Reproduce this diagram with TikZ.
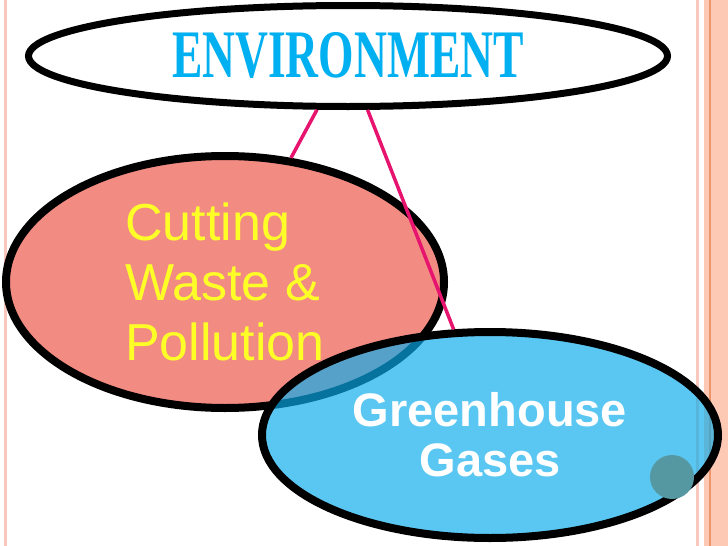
\documentclass[tikz,border=0pt]{standalone}
\usepackage{fontspec}
\setmainfont{Liberation Sans}
\newfontfamily\titlefont{Liberation Serif}
\usetikzlibrary{shapes.geometric}
\definecolor{envcyan}{RGB}{0,176,240}
\definecolor{cutpink}{RGB}{242,139,130}
\definecolor{cutyellow}{RGB}{255,255,40}
\definecolor{gasblue}{RGB}{10,172,236}
\definecolor{linkred}{RGB}{230,20,110}
\definecolor{edgepink}{RGB}{248,200,188}
\definecolor{edgepeach}{RGB}{253,200,180}
\definecolor{edgeorange}{RGB}{236,150,110}
\definecolor{dotteal}{RGB}{85,152,162}
\tikzset{/mind/bubble/.style={ellipse, draw=black, line width=7pt, inner sep=0pt
}}
\tikzset{/mind/link/.style={draw=linkred, line width=3.5pt
}}

\begin{document}
\begin{tikzpicture}[x=1pt, y=-1pt]
		\fill[white] (0,0) rectangle (728,546);
		\useasboundingbox (0,0) rectangle (728,546);
		% slide edges
		\fill[edgepink] (4,0) rectangle (7,546);
		\fill[edgepink] (696,0) rectangle (699,546);
		\fill[edgepeach] (704,0) rectangle (728,546);
		\fill[edgeorange] (709,0) rectangle (710.5,546);
		% bubbles
		\node[/mind/bubble, fill=white, minimum width=639pt, minimum height=101pt, text=envcyan, font={\titlefont\bfseries\fontsize{68}{68}\selectfont}] (env) at (348,56) {\scalebox{0.67}[1]{ENVIRONMENT}};
		\node[/mind/bubble, line width=8pt, fill=cutpink, minimum width=438pt, minimum height=252pt, text=cutyellow, align=left, font={\fontsize{52}{60}\selectfont}] (cut) at (225,282) {Cutting\\Waste \&\\Pollution};
		\node[/mind/bubble, line width=8pt, fill=gasblue, fill opacity=0.67, text opacity=1, minimum width=456pt, minimum height=206pt, text=white, align=center, font={\bfseries\fontsize{47}{50}\selectfont}] (gas) at (490,435) {Greenhouse\\Gases};
		% links
		\draw[/mind/link] (env.240) -- (cut.62);
		\draw[/mind/link] (env.290) -- (gas.109);
		\fill[dotteal] (672,477) circle (22);
	\end{tikzpicture}
\end{document}
